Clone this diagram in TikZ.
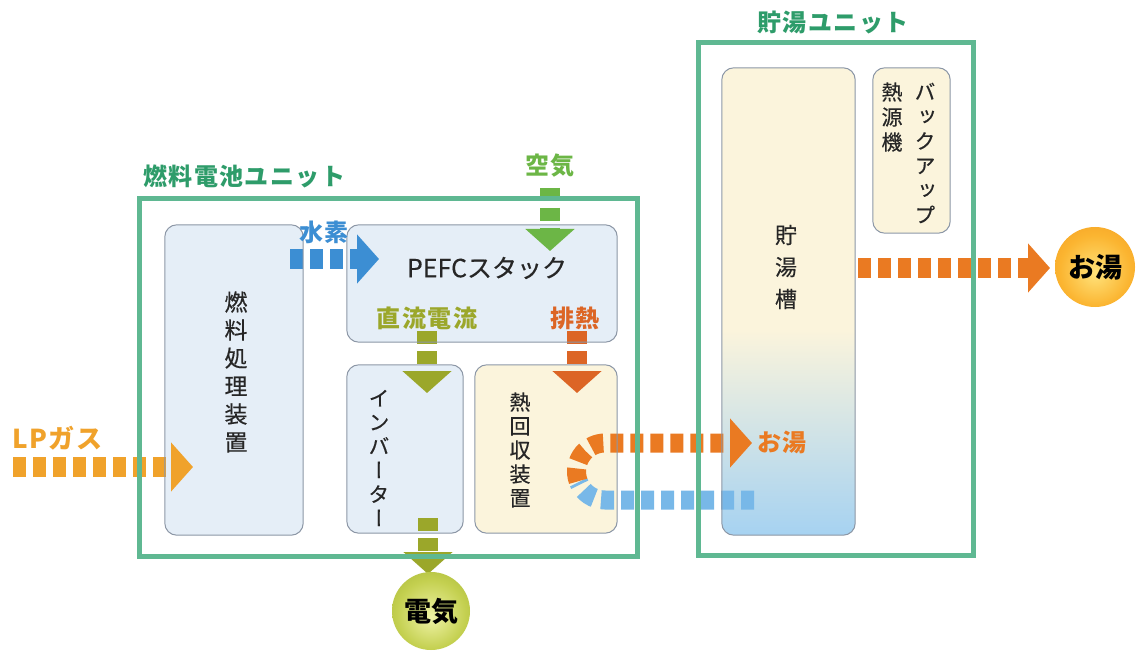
\documentclass[tikz,border=0pt]{standalone}
\usepackage{fontspec}
\setmainfont{Noto Sans CJK JP}
\newfontfamily\vjp{Noto Sans CJK JP}[RawFeature=+vert, FakeBold=0.4]
\newfontfamily\hjp{Noto Sans CJK JP}[FakeBold=0.4]
\newfontfamily\lblfont{Noto Sans CJK JP}[LetterSpace=6]
\usetikzlibrary{arrows.meta}
\definecolor{framegreen}{HTML}{5FB892}
\definecolor{labelgreen}{HTML}{2E9C6A}
\definecolor{boxblue}{HTML}{E5EEF7}
\definecolor{boxline}{HTML}{8C97A6}
\definecolor{cream}{HTML}{FBF4DC}
\definecolor{tankblue}{HTML}{A6D2F1}
\definecolor{lporange}{HTML}{F0A22B}
\definecolor{h2blue}{HTML}{3C8ED3}
\definecolor{airgreen}{HTML}{6CB646}
\definecolor{olive}{HTML}{9BA72A}
\definecolor{exhaust}{HTML}{DC6525}
\definecolor{hotorange}{HTML}{EA7A22}
\definecolor{coldblue}{HTML}{78B8E8}
\definecolor{textgray}{HTML}{262626}
\definecolor{hotin}{HTML}{FFE27A}
\definecolor{hotmid}{HTML}{FBB531}
\definecolor{hotout}{HTML}{EE8914}
\definecolor{elin}{HTML}{EFF3A6}
\definecolor{elmid}{HTML}{C4D050}
\definecolor{elout}{HTML}{8D9F1E}
\pgfdeclareradialshading{hotball}{\pgfpoint{0bp}{-4bp}}{color(0bp)=(hotin); color(22bp)=(hotmid); color(50bp)=(hotout)}
\pgfdeclareradialshading{elball}{\pgfpoint{0bp}{-4bp}}{color(0bp)=(elin); color(22bp)=(elmid); color(50bp)=(elout)}
\begin{document}
\begin{tikzpicture}[x=1pt,y=-1pt,
  fillbox/.style={rectangle, rounded corners=12pt, draw=none, inner sep=0pt},
  outl/.style={draw=boxline, line width=1pt, rounded corners=12pt},
  frame/.style={draw=framegreen, line width=5pt},
  flow/.style={line width=20pt, dash pattern=on 13pt off 7pt, -{Triangle[width=48pt,length=22pt]}},
  flowline/.style={line width=19pt, dash pattern=on 13pt off 7pt},
  lbl/.style={font=\lblfont\fontsize{24}{27}\selectfont\bfseries, inner sep=0pt},
  vtext/.style={align=center, inner sep=0pt, text=textgray},
  ball/.style={circle, inner sep=0pt, minimum size=80pt, font=\fontsize{27}{30}\selectfont\bfseries, text=black}
]
\useasboundingbox (0,0) rectangle (1137,652);
\fill[white] (0,0) rectangle (1137,652);

% box fills
\node[fillbox, fill=boxblue, minimum width=138pt, minimum height=310pt] (fp) at (234,380) {};
\node[fillbox, fill=boxblue, minimum width=270pt, minimum height=117pt] (pefc) at (482,283.5) {};
\node[fillbox, fill=boxblue, minimum width=116pt, minimum height=168pt] (inv) at (405,449) {};
\node[fillbox, fill=cream, minimum width=142pt, minimum height=168pt] (hr) at (546,449) {};
\node[fillbox, fill=cream, minimum width=133pt, minimum height=467pt] (tank) at (788.5,301.5) {};
\begin{scope}
  \clip[rounded corners=12pt] (tank.south west) rectangle (tank.north east);
  \shade[top color=cream, bottom color=tankblue] (tank.west |- 0,330) rectangle (tank.south east);
\end{scope}
\node[fillbox, fill=cream, minimum width=77pt, minimum height=165pt] (bk) at (911.5,150.5) {};

% free ends of the flows
\coordinate (lp0) at (13,467);
\coordinate (lp1) at (193,467);
\coordinate (h0) at (290,259);
\coordinate (h1) at (379,259);
\coordinate (a0) at (550,188);
\coordinate (a1) at (550,251);
\coordinate (dc0) at (427,331);
\coordinate (dc1) at (427,393);
\coordinate (ex0) at (577,331);
\coordinate (ex1) at (577,393);
\coordinate (el0) at (428,518);
\coordinate (el1) at (428,574);
\coordinate (hc) at (605,471.5);
\coordinate (hw1) at (752,443);
\coordinate (cw0) at (754,500);
\coordinate (cw1) at (605,500);
\coordinate (out0) at (858,268);
\coordinate (out1) at (1050,268);

% flows
\draw[flow, lporange] (lp0) -- (lp1);
\draw[flow, h2blue] (h0) -- (h1);
\draw[flow, airgreen] (a0) -- (a1);
\draw[flow, olive] (dc0) -- (dc1);
\draw[flow, exhaust] (ex0) -- (ex1);
\draw[flow, olive] (el0) -- (el1);
\draw[flowline, coldblue] (cw0) -- (cw1) arc[start angle=270, end angle=202, radius=28.5pt];
\draw[flow, hotorange, line width=19pt] ([shift={(200:28.5pt)}]hc) arc[start angle=200, end angle=90, radius=28.5pt] -- (hw1);
\draw[flow, hotorange] (out0) -- (out1);

% box outlines
\foreach \b in {fp,pefc,inv,hr,tank,bk}
  \draw[outl] (\b.south west) rectangle (\b.north east);

% unit frames
\draw[frame] (139,199) rectangle (637,556);
\draw[frame] (698,43) rectangle (973,555);
\node[lbl, text=labelgreen, anchor=west] (fcu) at (143,176) {燃料電池ユニット};
\node[lbl, text=labelgreen] (hwu) at (833,22) {貯湯ユニット};

% flow labels
\node[lbl, text=h2blue] (h2) at (324,232) {水素};
\node[lbl, text=airgreen] (air) at (550,166) {空気};
\node[lbl, text=olive] (dc) at (427,318) {直流電流};
\node[lbl, text=exhaust] (exh) at (575,318) {排熱};
\node[lbl, text=lporange, anchor=west, font=\lblfont\fontsize{26}{29}\selectfont\bfseries] (lp) at (12,438) {LPガス};
\node[lbl, text=hotorange, anchor=west] (hwl) at (757,442) {お湯};

% box texts
\node[inner sep=0pt, text=textgray, font=\hjp\fontsize{25}{28}\selectfont] (pefct) at (487,268) {PEFCスタック};
\node[vtext, font=\vjp\fontsize{23}{28}\selectfont] (fpt) at (236,372) {燃\\料\\処\\理\\装\\置};
\node[vtext, font=\vjp\fontsize{21}{24}\selectfont] (invt) at (379,458) {イ\\ン\\バ\\ー\\タ\\ー};
\node[vtext, font=\vjp\fontsize{21}{24}\selectfont] (hrt) at (520,450) {熱\\回\\収\\装\\置};
\node[vtext, font=\vjp\fontsize{22}{32}\selectfont] (tankt) at (786,267) {貯\\湯\\槽};
\node[vtext, font=\vjp\fontsize{21}{24.6}\selectfont] (bkt1) at (925,153) {バ\\ッ\\ク\\ア\\ッ\\プ};
\node[vtext, font=\vjp\fontsize{21}{25}\selectfont] (bkt2) at (892,117) {熱\\源\\機};

% outputs
\node[ball, shading=hotball] (hot) at (1095,267) {お湯};
\node[ball, minimum size=78pt, shading=elball] (elec) at (431,611) {電気};
\end{tikzpicture}
\end{document}
